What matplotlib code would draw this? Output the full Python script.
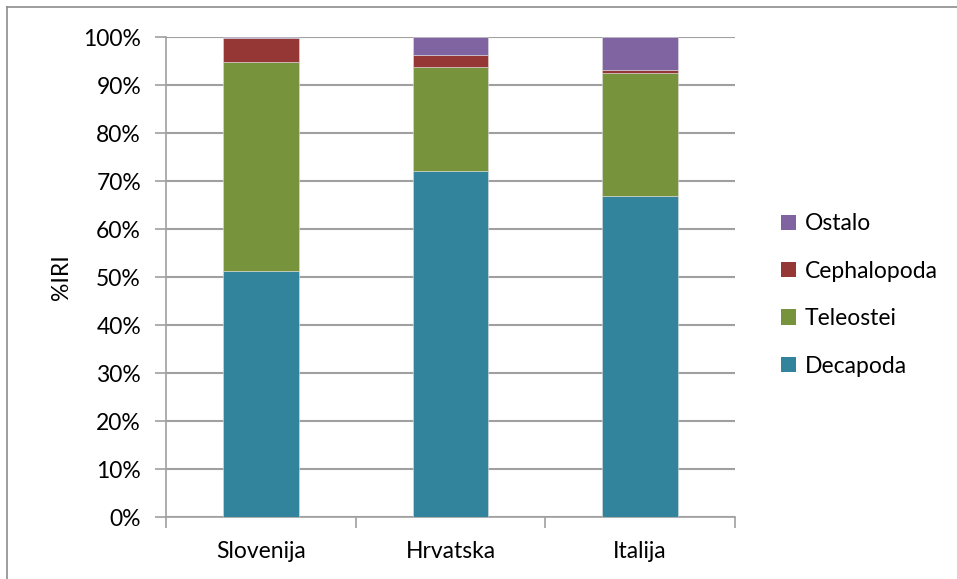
import matplotlib
matplotlib.use("Agg")
import matplotlib.pyplot as plt
from matplotlib.patches import Patch
from matplotlib.lines import Line2D
import numpy as np

categories = ["Slovenija", "Hrvatska", "Italija"]
decapoda = [51.2, 72.0, 66.8]
teleostei = [43.5, 21.75, 25.8]
cephalopoda = [5.0, 2.45, 0.5]
ostalo = [0.3, 3.8, 6.9]

series = [("Decapoda", decapoda, "#31849B"),
          ("Teleostei", teleostei, "#77933C"),
          ("Cephalopoda", cephalopoda, "#953735"),
          ("Ostalo", ostalo, "#8064A2")]

plt.rcParams['font.family'] = ['Lato', 'DejaVu Sans']
FS = 16.5

W, H = 957, 579
fig = plt.figure(figsize=(W/100, H/100), dpi=100)
ax = fig.add_axes([166/W, 1-517/H, (735-166)/W, (517-37)/H])

x = np.arange(len(categories))
bottom = np.zeros(len(categories))
handles = []
for name, vals, col in series:
    ax.bar(x, vals, width=0.4, bottom=bottom, color=col, edgecolor='#dddddd',
           linewidth=0.4, zorder=3)
    bottom += np.array(vals)
    handles.append(Patch(facecolor=col, edgecolor='none', label=name))

ax.set_xlim(-0.5, 2.5)
ax.set_ylim(0, 100)
ax.set_yticks(np.arange(0, 101, 10))
ax.set_yticklabels([f"{v}%" for v in range(0, 101, 10)], fontsize=FS)
ax.yaxis.grid(True, color='#a0a0a0', linewidth=1.5, zorder=0)
ax.set_axisbelow(True)
ax.set_xticks([-0.5, 0.5, 1.5, 2.5], minor=False)
ax.set_xticklabels([])
ax.set_xticks(x, minor=True)
ax.set_xticklabels(categories, minor=True, fontsize=FS)
ax.tick_params(axis='x', which='minor', length=0, pad=17)
ax.tick_params(axis='x', which='major', length=8, color='#a0a0a0', width=1.2)
ax.tick_params(axis='y', length=8, color='#a0a0a0', width=1.2, pad=10)
for s in ['top', 'right']:
    ax.spines[s].set_visible(False)
ax.spines['left'].set_color('#a0a0a0')
ax.spines['bottom'].set_color('#a0a0a0')
ax.spines['left'].set_linewidth(1.2)
ax.spines['bottom'].set_linewidth(1.2)
ax.set_ylabel("%IRI", fontsize=FS, labelpad=8)

leg = fig.legend(handles=handles[::-1], loc='center left',
                 bbox_to_anchor=(760/W, 1-295/H), frameon=False, fontsize=FS,
                 handlelength=0.65, handleheight=0.65, handletextpad=0.4,
                 labelspacing=1.15)

fig.add_artist(Line2D([7/W, 1], [1-7/H, 1-7/H], transform=fig.transFigure,
                      color='#8c8c8c', linewidth=1.2))
fig.add_artist(Line2D([7/W, 7/W], [0, 1-7/H], transform=fig.transFigure,
                      color='#8c8c8c', linewidth=1.2))

fig.savefig("out.png", dpi=100)
